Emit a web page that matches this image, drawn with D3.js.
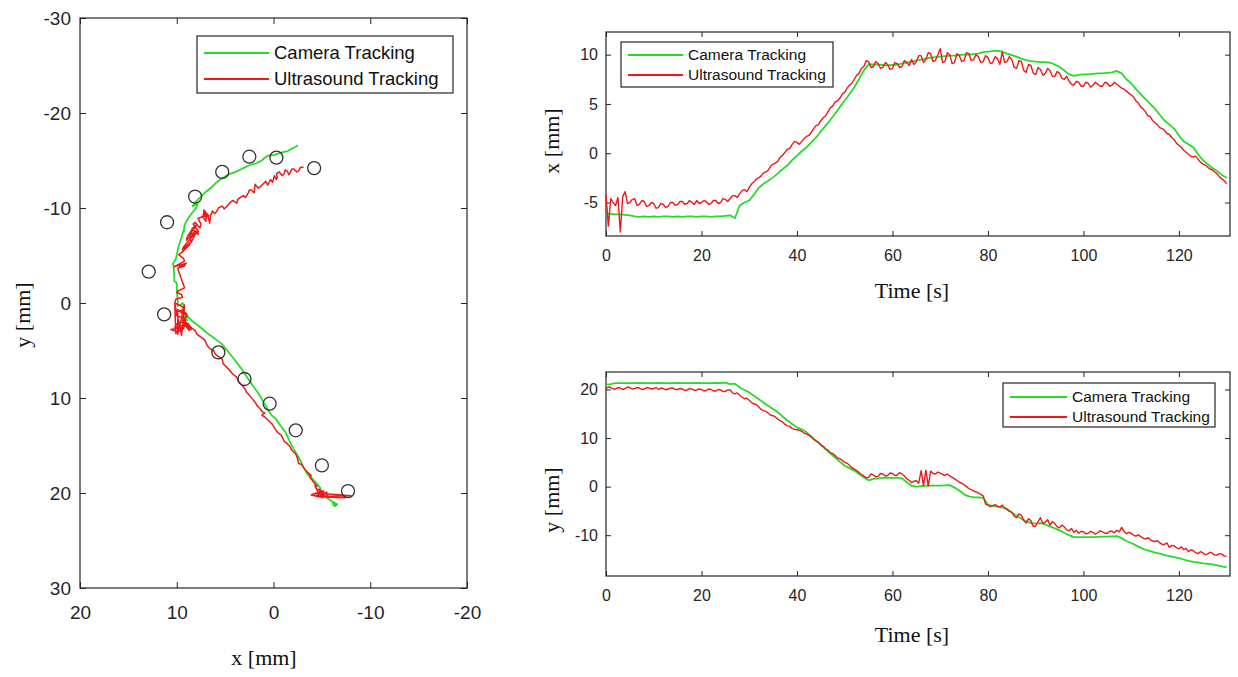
<!DOCTYPE html>
<html>
<head>
<meta charset="utf-8">
<script src="https://cdn.jsdelivr.net/npm/d3@7"></script>
<style>
    body { margin: 0; background: #fff; }
    .axis-label { font-family: "Liberation Serif", "Times New Roman", serif; font-size: 22px; fill: #111; }
    .legend text { font-family: "Liberation Sans", Arial, sans-serif; fill: #111; }
</style>
</head>
<body>
<svg id="chart"></svg>
<script>
// camera sample times [s]
const time = [
    0, 1, 2, 3, 4, 5, 6, 7, 8, 9,
    10, 11, 12, 13, 14, 15, 16, 17, 18, 19,
    20, 21, 22, 23, 24, 25, 26, 27, 28, 29,
    30, 31, 32, 33, 34, 35, 36, 37, 38, 39,
    40, 41, 42, 43, 44, 45, 46, 47, 48, 49,
    50, 51, 52, 53, 54, 55, 56, 57, 58, 59,
    60, 61, 62, 63, 64, 65, 66, 67, 68, 69,
    70, 71, 72, 73, 74, 75, 76, 77, 78, 79,
    80, 81, 82, 83, 84, 85, 86, 87, 88, 89,
    90, 91, 92, 93, 94, 95, 96, 97, 98, 99,
    100, 101, 102, 103, 104, 105, 106, 107, 108, 109,
    110, 111, 112, 113, 114, 115, 116, 117, 118, 119,
    120, 121, 122, 123, 124, 125, 126, 127, 128, 129,
    130
];

const usTime = time.flatMap(t => [t, t + 0.5]).slice(0, -1);

// camera tracking, x [mm]
const camX = [
    -6.1, -6.15, -6.2, -6.2, -6.25, -6.3, -6.4, -6.45, -6.4, -6.45,
    -6.4, -6.45, -6.4, -6.4, -6.45, -6.4, -6.45, -6.4, -6.4, -6.45,
    -6.4, -6.4, -6.45, -6.4, -6.4, -6.35, -6.3, -6.6, -5.3, -5.0,
    -4.8, -4.2, -3.5, -3.1, -2.8, -2.45, -2.05, -1.6, -1.25, -0.7,
    -0.25, 0.2, 0.6, 1.1, 1.6, 2.2, 2.8, 3.4, 4.0, 4.7,
    5.35, 6.0, 6.7, 7.5, 8.4, 9.0, 9.0, 9.0, 8.95, 8.9,
    8.95, 9.0, 9.1, 9.2, 9.3, 9.4, 9.5, 9.6, 9.7, 9.75,
    9.8, 9.85, 9.9, 9.9, 9.95, 10.0, 10.0, 10.05, 10.1, 10.25,
    10.3, 10.35, 10.4, 10.3, 10.1, 9.95, 9.8, 9.6, 9.45, 9.35,
    9.3, 9.25, 9.25, 9.2, 9.0, 8.75, 8.4, 8.0, 7.85, 7.95,
    8.0, 8.0, 8.05, 8.1, 8.1, 8.15, 8.2, 8.35, 8.1, 7.5,
    7.1, 6.5, 6.0, 5.5, 5.0, 4.5, 3.9, 3.3, 2.9, 2.5,
    1.8, 1.2, 0.9, 0.6, -0.1, -0.7, -1.1, -1.5, -1.8, -2.2,
    -2.5
];

// camera tracking, y [mm]
const camY = [
    21.0, 21.1, 21.3, 21.3, 21.3, 21.3, 21.3, 21.35, 21.3, 21.3,
    21.3, 21.35, 21.3, 21.3, 21.3, 21.35, 21.3, 21.3, 21.3, 21.35,
    21.3, 21.3, 21.3, 21.35, 21.3, 21.4, 21.1, 21.2, 20.4, 19.9,
    19.4, 18.7, 18.0, 17.3, 16.6, 16.0, 15.3, 14.4, 13.6, 12.9,
    12.2, 11.8, 11.2, 10.3, 9.45, 8.6, 7.7, 6.8, 6.0, 5.1,
    4.3, 3.8, 3.3, 2.6, 1.9, 1.3, 1.6, 1.7, 1.8, 1.8,
    1.8, 1.8, 1.7, 0.9, 0.2, 0.0, 0.1, 0.2, 0.2, 0.2,
    0.2, 0.25, 0.3, -0.2, -0.8, -1.6, -2.0, -2.2, -2.2, -2.3,
    -3.7, -4.0, -4.1, -4.3, -4.6, -5.3, -6.0, -6.6, -7.1, -7.5,
    -7.6, -7.5, -7.8, -8.2, -8.6, -9.0, -9.5, -10.0, -10.4, -10.4,
    -10.4, -10.4, -10.4, -10.35, -10.3, -10.3, -10.25, -10.2, -10.6, -11.2,
    -11.6, -12.1, -12.6, -13.0, -13.3, -13.6, -13.8, -14.1, -14.3, -14.5,
    -14.7, -15.0, -15.3, -15.5, -15.6, -15.8, -15.9, -16.0, -16.2, -16.4,
    -16.6
];

// ultrasound tracking, x [mm] (two values per second)
const usX = [
    -4.2, -7.4, -4.6, -5.0, -5.3, -4.5, -8.0, -4.4, -3.9, -5.1,
    -5.0, -4.7, -4.6, -5.3, -5.2, -4.8, -4.9, -5.4, -5.3, -5.0,
    -5.1, -5.6, -5.5, -5.1, -5.2, -5.5, -5.4, -5.0, -5.0, -5.3,
    -5.2, -4.9, -4.9, -5.2, -5.1, -4.8, -5.0, -5.2, -4.8, -5.1,
    -5.0, -4.8, -4.9, -5.2, -5.1, -4.8, -4.8, -5.1, -5.0, -4.6,
    -4.7, -4.9, -4.6, -4.3, -4.3, -4.5, -4.1, -3.8, -3.7, -3.9,
    -3.5, -3.1, -2.9, -2.6, -2.5, -2.3, -2.0, -1.9, -1.7, -1.3,
    -1.1, -1.0, -0.8, -0.4, -0.2, 0.1, 0.4, 0.5, 0.9, 1.2,
    1.1, 0.9, 1.2, 1.5, 1.7, 1.8, 2.1, 2.5, 2.8, 2.9,
    3.3, 3.6, 3.8, 4.2, 4.6, 4.8, 5.2, 5.3, 5.6, 6.0,
    6.2, 6.6, 6.9, 7.1, 7.5, 7.9, 8.1, 8.6, 8.8, 9.4,
    9.3, 8.7, 8.8, 9.3, 9.1, 8.6, 8.7, 9.2, 9.0, 8.5,
    8.6, 9.2, 9.1, 8.7, 8.8, 9.4, 9.2, 8.9, 9.5, 9.0,
    9.3, 9.9, 9.9, 9.2, 9.5, 10.2, 10.1, 9.3, 9.4, 10.0,
    10.6, 9.2, 9.3, 10.2, 10.0, 9.1, 9.2, 10.1, 9.9, 9.3,
    9.4, 10.2, 10.1, 9.4, 9.5, 10.0, 9.8, 9.2, 9.3, 9.9,
    9.7, 9.1, 9.2, 9.8, 9.6, 9.0, 10.3, 9.2, 9.3, 9.8,
    9.5, 8.7, 8.6, 9.4, 9.3, 8.4, 8.2, 9.0, 8.9, 8.1,
    8.0, 8.7, 8.5, 7.9, 8.1, 8.6, 8.4, 7.8, 7.8, 8.3,
    8.1, 7.6, 7.5, 7.8, 7.3, 7.0, 6.9, 7.3, 7.2, 6.8,
    6.8, 7.2, 7.1, 6.7, 6.9, 7.2, 7.0, 6.8, 6.8, 7.2,
    7.1, 6.8, 6.9, 7.2, 7.0, 6.8, 6.6, 6.5, 6.3, 6.1,
    5.9, 5.7, 5.3, 5.1, 4.7, 4.5, 4.2, 3.8, 3.7, 3.3,
    3.1, 2.9, 2.6, 2.5, 2.3, 2.0, 1.9, 1.6, 1.4, 1.0,
    0.8, 0.6, 0.3, 0.1, -0.1, -0.3, -0.4, -0.3, -0.6, -0.9,
    -1.1, -1.2, -1.4, -1.6, -1.7, -1.9, -2.1, -2.4, -2.6, -2.8,
    -3.1
];

// ultrasound tracking, y [mm] (two values per second)
const usY = [
    20.2, 20.5, 20.4, 20.1, 20.1, 20.4, 20.3, 20.0, 20.2, 20.5,
    20.4, 20.1, 20.2, 20.4, 20.3, 20.0, 20.1, 20.4, 20.3, 20.1,
    20.2, 20.4, 20.0, 20.3, 20.2, 19.9, 20.1, 20.3, 20.3, 20.0,
    20.0, 20.2, 20.1, 19.8, 19.9, 20.2, 20.1, 19.8, 19.9, 20.1,
    20.0, 19.7, 19.8, 20.1, 20.0, 19.7, 19.7, 20.0, 19.9, 19.6,
    19.6, 19.9, 19.9, 19.3, 19.1, 19.3, 18.8, 18.4, 18.1, 18.2,
    17.8, 17.3, 17.0, 16.9, 16.4, 15.9, 15.6, 15.5, 15.1, 14.7,
    14.6, 14.3, 13.9, 13.6, 13.3, 12.8, 12.5, 12.4, 12.0, 11.8,
    11.7, 11.6, 11.4, 11.0, 10.8, 10.6, 10.2, 9.7, 9.4, 9.1,
    8.6, 8.3, 7.8, 7.5, 7.0, 6.8, 6.4, 5.9, 5.7, 5.4,
    5.0, 4.8, 4.4, 3.9, 3.6, 3.3, 2.9, 2.5, 2.2, 1.8,
    1.9, 2.6, 2.4, 2.0, 2.1, 2.7, 2.6, 2.2, 2.3, 2.8,
    2.7, 2.3, 2.4, 2.9, 2.6, 2.2, 1.6, 1.3, 0.8, 1.1,
    1.2, 0.7, 3.3, 0.2, 3.4, 0.1, 3.2, 2.7, 2.6, 3.0,
    2.8, 2.5, 2.3, 2.6, 2.2, 1.9, 1.6, 1.3, 0.9, 0.7,
    0.4, 0.0, -0.4, -0.6, -0.9, -1.1, -1.3, -1.6, -1.9, -3.6,
    -3.8, -4.1, -3.9, -3.7, -4.0, -4.2, -3.8, -4.4, -4.7, -5.1,
    -5.3, -6.1, -6.4, -5.6, -5.9, -7.0, -7.5, -6.6, -7.0, -8.2,
    -8.1, -7.2, -6.4, -7.6, -7.3, -6.8, -7.9, -7.2, -7.6, -8.3,
    -8.5, -7.9, -8.3, -8.9, -9.1, -8.6, -9.4, -9.0, -9.6, -9.2,
    -9.3, -9.7, -9.6, -9.2, -9.4, -9.8, -9.5, -9.1, -9.3, -9.6,
    -9.6, -9.2, -9.2, -9.5, -9.0, -9.3, -8.4, -9.2, -9.7, -9.4,
    -9.6, -10.0, -10.2, -9.9, -10.3, -10.6, -10.8, -10.5, -10.9, -11.2,
    -11.3, -11.1, -11.6, -11.9, -11.9, -11.6, -12.5, -12.1, -12.2, -12.6,
    -12.8, -12.4, -13.0, -12.7, -13.4, -13.0, -13.2, -13.6, -13.8, -13.4,
    -13.6, -14.0, -13.9, -13.5, -13.7, -14.1, -14.1, -13.8, -13.9, -14.3,
    -14.3
];

// reference target points (circles) in the trajectory plot [mm]
const targetX = [-4.2, -0.3, 2.5, 5.3, 8.1, 11.0, 12.9, 11.3, 5.7, 3.0, 0.4, -2.3, -5.0, -7.7];
const targetY = [-14.2, -15.3, -15.4, -13.8, -11.2, -8.5, -3.3, 1.2, 5.2, 8.0, 10.6, 13.4, 17.1, 19.8];

// tick values
const trajXTicks = [20, 10, 0, -10, -20];
const trajYTicks = [-30, -20, -10, 0, 10, 20, 30];
const timeTicks = [0, 20, 40, 60, 80, 100, 120];
const posXTicks = [-5, 0, 5, 10];
const posYTicks = [-10, 0, 10, 20];

const seriesNames = ["Camera Tracking", "Ultrasound Tracking"];
const seriesColors = ["#27dc27", "#ec1a1a"];

const axisColor = "#262626";

// create canvas
const svg = d3.select("#chart")
    .attr("width", 1238)
    .attr("height", 677);

svg.append("rect")
    .attr("width", 1238)
    .attr("height", 677)
    .attr("fill", "#fff");

/*
draw a boxed matlab style axes: inward ticks on all four sides
*/
function drawAxes(x, y, xTicks, yTicks, tickLen, fontSize, xPad, yPad) {
    const left = d3.min(x.range()), right = d3.max(x.range());
    const top = d3.min(y.range()), bottom = d3.max(y.range());
    const fmt = d => String(d);

    const style = g => g
        .attr("color", axisColor)
        .attr("font-size", fontSize)
        .attr("font-family", "'Liberation Sans', Arial, sans-serif")
        .call(s => s.select(".domain").remove());

    // bottom axis with labels
    svg.append("g")
        .attr("transform", "translate(0," + bottom + ")")
        .call(d3.axisBottom(x).tickValues(xTicks).tickFormat(fmt)
            .tickSizeInner(-tickLen).tickSizeOuter(0).tickPadding(xPad))
        .call(style);

    // top mirror ticks
    svg.append("g")
        .attr("transform", "translate(0," + top + ")")
        .call(d3.axisTop(x).tickValues(xTicks).tickFormat("")
            .tickSizeInner(-tickLen).tickSizeOuter(0))
        .call(style);

    // left axis with labels
    svg.append("g")
        .attr("transform", "translate(" + left + ",0)")
        .call(d3.axisLeft(y).tickValues(yTicks).tickFormat(fmt)
            .tickSizeInner(-tickLen).tickSizeOuter(0).tickPadding(yPad))
        .call(style);

    // right mirror ticks
    svg.append("g")
        .attr("transform", "translate(" + right + ",0)")
        .call(d3.axisRight(y).tickValues(yTicks).tickFormat("")
            .tickSizeInner(-tickLen).tickSizeOuter(0))
        .call(style);

    // box
    svg.append("rect")
        .attr("x", left)
        .attr("y", top)
        .attr("width", right - left)
        .attr("height", bottom - top)
        .attr("fill", "none")
        .attr("stroke", axisColor)
        .attr("stroke-width", 1.2);
}

/*
legend box with line samples
*/
function drawLegend(x0, y0, w, h, rowY, lineLen, fontSize) {
    const g = svg.append("g").attr("class", "legend");
    g.append("rect")
        .attr("x", x0).attr("y", y0)
        .attr("width", w).attr("height", h)
        .attr("fill", "#fff")
        .attr("stroke", axisColor)
        .attr("stroke-width", 1.2);

    seriesNames.forEach(function (name, i) {
        g.append("line")
            .attr("x1", x0 + 7).attr("x2", x0 + 7 + lineLen)
            .attr("y1", y0 + rowY[i]).attr("y2", y0 + rowY[i])
            .attr("stroke", seriesColors[i])
            .attr("stroke-width", 1.8);
        g.append("text")
            .attr("x", x0 + 12 + lineLen)
            .attr("y", y0 + rowY[i])
            .attr("dy", "0.35em")
            .attr("font-size", fontSize)
            .text(name);
    });
}

function axisLabel(text, x, y, rotate) {
    svg.append("text")
        .attr("class", "axis-label")
        .attr("text-anchor", "middle")
        .attr("transform", "translate(" + x + "," + y + ")" + (rotate ? " rotate(-90)" : ""))
        .text(text);
}

// ---------- trajectory plot (left) ----------
const xTraj = d3.scaleLinear().domain([20, -20]).range([80, 467]);
const yTraj = d3.scaleLinear().domain([-30, 30]).range([18, 588]);

drawAxes(xTraj, yTraj, trajXTicks, trajYTicks, 6, 19, 18, 9);

const trajLine = function (ts, xs, ys) {
    return d3.line()
        .x((d, i) => xTraj(xs[i]))
        .y((d, i) => yTraj(ys[i]))(ts);
};

svg.append("path")
    .attr("d", trajLine(time, camX, camY))
    .attr("fill", "none")
    .attr("stroke", seriesColors[0])
    .attr("stroke-width", 1.8)
    .attr("stroke-linejoin", "round");

svg.append("path")
    .attr("d", trajLine(usTime, usX, usY))
    .attr("fill", "none")
    .attr("stroke", seriesColors[1])
    .attr("stroke-width", 1.5)
    .attr("stroke-linejoin", "round");

svg.selectAll(".target")
    .data(targetX)
    .enter().append("circle")
    .attr("class", "target")
    .attr("cx", d => xTraj(d))
    .attr("cy", (d, i) => yTraj(targetY[i]))
    .attr("r", 6.5)
    .attr("fill", "none")
    .attr("stroke", "#333")
    .attr("stroke-width", 1.3);

drawLegend(197, 36, 256, 57, [17, 43], 65, 18.5);
axisLabel("x [mm]", 264, 665, false);
axisLabel("y [mm]", 30, 315, true);

// ---------- time series plots (right) ----------
const xTime = d3.scaleLinear().domain([0, 130.7]).range([606, 1230]);
const yPosX = d3.scaleLinear().domain([-8.4, 12.3]).range([236, 32]);
const yPosY = d3.scaleLinear().domain([-18.4, 23.6]).range([576, 372]);

function drawSeries(yScale, ts, values, color, width) {
    svg.append("path")
        .attr("d", d3.line()
            .x(d => xTime(d))
            .y((d, i) => yScale(values[i]))(ts))
        .attr("fill", "none")
        .attr("stroke", color)
        .attr("stroke-width", width)
        .attr("stroke-linejoin", "round");
}

// x over time
drawAxes(xTime, yPosX, timeTicks, posXTicks, 5, 16, 14, 8);
drawSeries(yPosX, time, camX, seriesColors[0], 1.8);
drawSeries(yPosX, usTime, usX, seriesColors[1], 1.4);
drawLegend(621, 42, 212, 45, [13, 33], 55, 15.5);
axisLabel("Time [s]", 912, 298, false);
axisLabel("x [mm]", 559, 141, true);

// y over time
drawAxes(xTime, yPosY, timeTicks, posYTicks, 5, 16, 14, 8);
drawSeries(yPosY, time, camY, seriesColors[0], 1.8);
drawSeries(yPosY, usTime, usY, seriesColors[1], 1.4);
drawLegend(1003, 383, 212, 44, [14, 34], 57, 15.5);
axisLabel("Time [s]", 912, 642, false);
axisLabel("y [mm]", 559, 500, true);
</script>
</body>
</html>
